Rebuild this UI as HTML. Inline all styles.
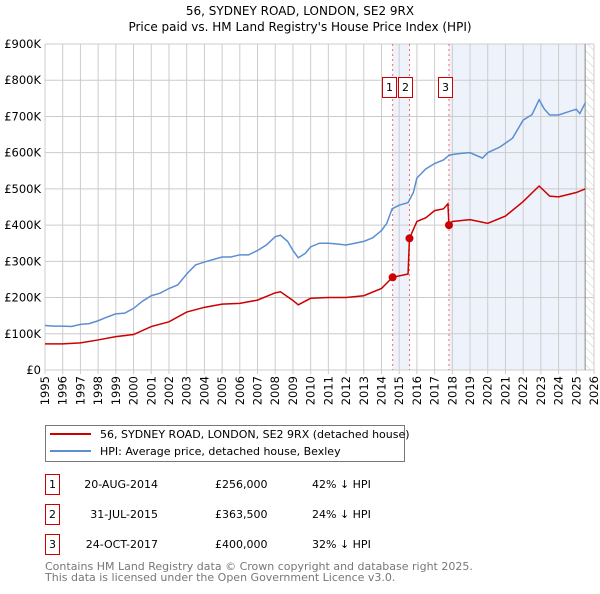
<!DOCTYPE html>
<html><head><meta charset="utf-8"><style>
body{margin:0;background:#fff;font-family:"DejaVu Sans","Liberation Sans",sans-serif;}
svg text{font-family:"DejaVu Sans","Liberation Sans",sans-serif;}
</style></head><body>
<svg id="chart" width="600" height="590" xmlns="http://www.w3.org/2000/svg">
<defs><pattern id="hatch" width="6" height="6" patternUnits="userSpaceOnUse" patternTransform="rotate(-45)"><line x1="0" y1="0" x2="0" y2="6" stroke="#ccc" stroke-width="1"/></pattern></defs>
<text x="300" y="15" text-anchor="middle" font-size="12">56, SYDNEY ROAD, LONDON, SE2 9RX</text>
<text x="300" y="31" text-anchor="middle" font-size="12">Price paid vs. HM Land Registry's House Price Index (HPI)</text>
<g id="plot"></g>
<g>
<rect x="45.5" y="425.5" width="359" height="36" fill="#fff" stroke="#777"/>
<line x1="50" y1="434" x2="91" y2="434" stroke="#cc0000" stroke-width="2"/>
<text x="100" y="438" font-size="11">56, SYDNEY ROAD, LONDON, SE2 9RX (detached house)</text>
<line x1="50" y1="451" x2="91" y2="451" stroke="#5b8fd0" stroke-width="2"/>
<text x="100" y="455" font-size="11">HPI: Average price, detached house, Bexley</text>
</g>
<g id="table" font-size="11"></g>
<text x="45" y="570" font-size="11" fill="#777">Contains HM Land Registry data © Crown copyright and database right 2025.</text>
<text x="45" y="581" font-size="11" fill="#777">This data is licensed under the Open Government Licence v3.0.</text>
</svg>
<script>
const hpiYears=[1995,1995.5,1996,1996.5,1997,1997.5,1998,1998.5,1999,1999.5,2000,2000.5,2001,2001.5,2002,2002.5,2003,2003.5,2004,2004.5,2005,2005.5,2006,2006.5,2007,2007.5,2008,2008.3,2008.7,2009,2009.3,2009.7,2010,2010.5,2011,2011.5,2012,2012.5,2013,2013.5,2014,2014.3,2014.6,2015,2015.5,2015.8,2016,2016.5,2017,2017.5,2017.8,2018,2018.5,2019,2019.7,2020,2020.7,2021.4,2022,2022.5,2022.9,2023.2,2023.5,2024,2024.5,2025,2025.2,2025.5];
const hpiValues=[123,121,121,120,126,128,136,146,155,157,170,190,205,212,225,235,265,290,298,305,312,312,318,318,330,345,368,372,355,330,310,322,340,350,350,348,345,350,355,365,385,405,445,455,462,490,530,555,570,580,592,595,598,600,585,600,616,640,690,705,746,720,704,704,712,720,708,737];
const ppYears=[1995,1996,1997,1998,1999,2000,2001,2002,2003,2004,2005,2006,2007,2008,2008.3,2009,2009.3,2010,2011,2012,2013,2014,2014.63,2015.5,2015.58,2016,2016.5,2017,2017.5,2017.75,2017.81,2018,2019,2020,2021,2022,2022.9,2023.5,2024,2025,2025.5];
const ppValues=[72,72,75,83,92,98,120,133,160,173,182,184,193,213,216,192,180,198,200,200,205,225,256,265,363.5,410,420,440,445,459,400,410,415,405,425,465,508,480,478,490,500];
const saleYears=[2014.63,2015.58,2017.81];
const saleValues=[256,363.5,400];
const saleLabels=["1","2","3"];
const saleDates=["20-AUG-2014","31-JUL-2015","24-OCT-2017"];
const salePrices=["£256,000","£363,500","£400,000"];
const saleDiffs=["42% ↓ HPI","24% ↓ HPI","32% ↓ HPI"];
const yTicks=[0,100,200,300,400,500,600,700,800,900];
const yTickLabels=["£0","£100K","£200K","£300K","£400K","£500K","£600K","£700K","£800K","£900K"];
const xTicks=[1995,1996,1997,1998,1999,2000,2001,2002,2003,2004,2005,2006,2007,2008,2009,2010,2011,2012,2013,2014,2015,2016,2017,2018,2019,2020,2021,2022,2023,2024,2025,2026];

const NS="http://www.w3.org/2000/svg";
const L=45,R=594,T=44,B=370;
const x=y=>L+(y-1995)/(2026-1995)*(R-L);
const yv=v=>B-v/900*(B-T);
const plot=document.getElementById('plot');
function mk(tag,attrs,parent){const e=document.createElementNS(NS,tag);for(const k in attrs)e.setAttribute(k,attrs[k]);(parent||plot).appendChild(e);return e;}

let e;
e=mk('rect',{x:x(saleYears[0]),y:T,width:x(saleYears[1])-x(saleYears[0]),height:B-T,fill:'#eef3fb'});


e=mk('rect',{x:x(saleYears[2]),y:T,width:x(2025.5)-x(saleYears[2]),height:B-T,fill:'#eef3fb'});


e=mk('rect',{x:x(2025.5),y:T,width:R-x(2025.5),height:B-T,fill:'url(#hatch)'});



yTicks.forEach((t,i)=>{
  e=mk('line',{x1:L,x2:R,y1:yv(t),y2:yv(t),stroke:'#cccccc'});
  
  
  e=mk('text',{x:L-4,y:yv(t)+4,'text-anchor':'end','font-size':'11.5'});
  e.textContent=yTickLabels[i];
  
  
});
xTicks.forEach(t=>{
  e=mk('line',{x1:x(t),x2:x(t),y1:T,y2:B+4,stroke:'#cccccc'});
  
  
  e=mk('text',{x:0,y:0,'font-size':'11.5','text-anchor':'end',transform:`translate(${x(t)+4},${B+6}) rotate(-90)`});
  e.textContent=t;
  
  
});
e=mk('line',{x1:x(2025.5),x2:x(2025.5),y1:T,y2:B,stroke:'#888'});



saleYears.forEach((s,i)=>{
  e=mk('line',{x1:x(s),x2:x(s),y1:T,y2:B,stroke:'#ff6666','stroke-dasharray':'2,3'});
  
  
});

e=mk('polyline',{points:hpiYears.map((t,i)=>x(t)+','+yv(hpiValues[i])).join(' '),fill:'none',stroke:'#5b8fd0','stroke-width':1.5});


e=mk('polyline',{points:ppYears.map((t,i)=>x(t)+','+yv(ppValues[i])).join(' '),fill:'none',stroke:'#cc0000','stroke-width':1.5});



saleYears.forEach((s,i)=>{
  e=mk('circle',{cx:x(s),cy:yv(saleValues[i]),r:4,fill:'#cc0000'});
  
  
  const bx=Math.round(x(s)-11);
  const g=mk('g',{});
  
  
  mk('rect',{x:bx+0.5,y:77.5,width:14,height:20,fill:'#fff',stroke:'#cc0000'},g);
  const tt=mk('text',{x:bx+7.5,y:91,'text-anchor':'middle','font-size':'11'},g);
  tt.textContent=saleLabels[i];
});

const tbl=document.getElementById('table');
saleYears.forEach((s,i)=>{
  const cy=483+i*30;
  const g=mk('g',{},tbl);
  
  
  mk('rect',{x:45.5,y:cy-8.5,width:14,height:20,fill:'#fff',stroke:'#cc0000'},g);
  let t=mk('text',{x:52.5,y:cy+5,'text-anchor':'middle'},g);t.textContent=saleLabels[i];
  t=mk('text',{x:158,y:cy+5,'text-anchor':'end'},g);t.textContent=saleDates[i];
  t=mk('text',{x:215,y:cy+5},g);t.textContent=salePrices[i];
  t=mk('text',{x:312,y:cy+5},g);t.textContent=saleDiffs[i];
});
</script>
</body></html>
